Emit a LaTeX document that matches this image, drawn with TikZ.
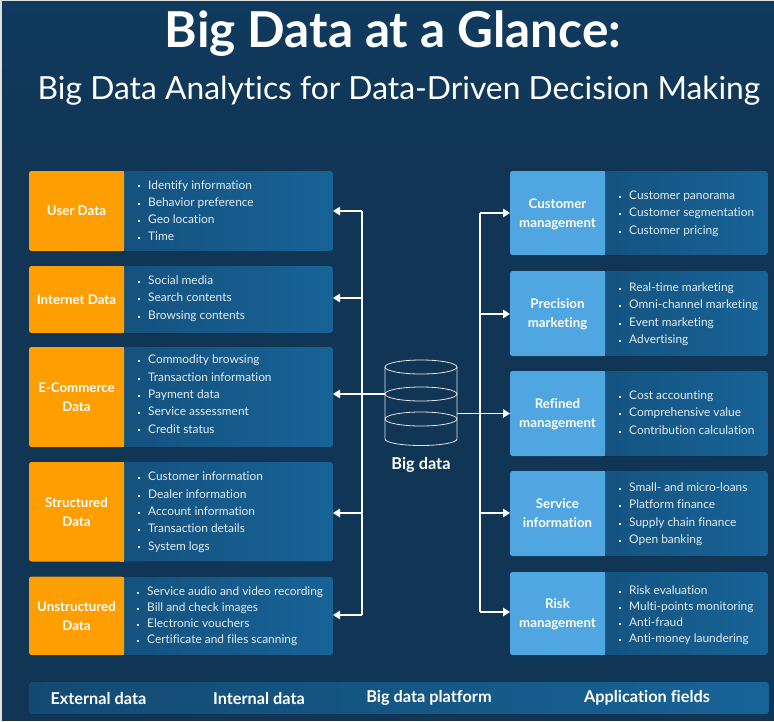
\documentclass[tikz,border=0pt]{standalone}
\usepackage{fontspec}
\setmainfont[Ligatures=NoCommon]{Lato}
\usetikzlibrary{arrows.meta,shapes.geometric}
\definecolor{bgtop}{HTML}{103B5E}
\definecolor{bgmid}{HTML}{103555}
\definecolor{panelL}{HTML}{134A73}
\definecolor{panelR}{HTML}{176397}
\definecolor{orangeb}{HTML}{FF9E00}
\definecolor{blueb}{HTML}{4FA6E0}
\definecolor{txt}{HTML}{E4EDF3}
\tikzset{
  x=1pt,y=-1pt,
  head/.style={font=\fontsize{13.3}{19}\selectfont\bfseries,text=white,align=center,inner sep=0pt,anchor=center},
  bullets/.style={font=\fontsize{11.9}{17.3}\selectfont,text=txt,align=left,anchor=west,inner sep=0pt},
  tight/.style={font=\fontsize{11.9}{16}\selectfont},
  conn/.style={draw=white,line width=1.4pt},
  arr/.style={conn,-{Triangle[length=7pt,width=8.5pt]}},
  cyl/.style={draw=white!90!black,line width=.8pt},
  bar/.style={font=\fontsize{16.3}{18}\selectfont\bfseries,text=white,inner sep=0pt},
}
\newcommand{\hs}{\rule[-4.5pt]{0pt}{18.5pt}}
\newcommand{\dataBox}[8]{%
 \fill[left color=panelL,right color=panelR,rounded corners=2.5pt] (#2,#3) rectangle (#4,#5);
 \fill[#7,rounded corners=2.5pt] (#2,#3) rectangle (#6,#5);
 \fill[#7] (#6-4,#3) rectangle (#6,#5);
 \node[head] (#1) at ({(#2+#6)/2},{(#3+#5)/2}) {\hs #8\hs};
}
\newcommand{\itemlist}[5][]{\node[bullets,#1] (#2) at (#3,#4) {\begin{tabular}{@{}l@{\hspace{8pt}}l@{}}#5\end{tabular}};}
\newcommand{\bu}{\raisebox{1.6pt}{\rule{2pt}{2pt}}&}
\begin{document}
\begin{tikzpicture}
\useasboundingbox (0,0) rectangle (774,721);
\fill[bgmid] (0,0) rectangle (774,721);
\fill[top color=bgtop,bottom color=bgmid] (0,0) rectangle (774,160);
\fill[black!12] (0,0) rectangle (2,721);
\fill[black!12] (0,0) rectangle (774,1.2);
% titles
\node[font=\fontsize{49.5}{52}\selectfont\bfseries,text=white,inner sep=0pt] (t1) at (393,34) {Big Data at a Glance:};
\node[font=\fontsize{31.8}{34}\selectfont,text=white,inner sep=0pt] (t2) at (399,91) {Big Data Analytics for Data-Driven Decision Making};
% left
\dataBox{u}{29}{171}{333}{251}{124}{orangeb}{User Data}
\dataBox{i}{29}{266}{333}{333}{124}{orangeb}{Internet Data}
\dataBox{e}{29}{347}{333}{447}{124}{orangeb}{E-Commerce\\Data}
\dataBox{s}{29}{462}{333}{561.5}{124}{orangeb}{Structured\\Data}
\dataBox{n}{29}{576.5}{333}{655}{124}{orangeb}{Unstructured\\Data}
\itemlist{lu}{138}{211.5}{\bu Identify information\\\bu Behavior preference\\\bu Geo location\\\bu Time}
\itemlist{li}{138}{298.5}{\bu Social media\\\bu Search contents\\\bu Browsing contents}
\itemlist{le}{138}{395}{\bu Commodity browsing\\\bu Transaction information\\\bu Payment data\\\bu Service assessment\\\bu Credit status}
\itemlist{ls}{138}{512}{\bu Customer information\\\bu Dealer information\\\bu Account information\\\bu Transaction details\\\bu System logs}
\itemlist[tight]{ln}{137}{616.5}{\bu Service audio and video recording\\\bu Bill and check images\\\bu Electronic vouchers\\\bu Certificate and files scanning}
% right
\dataBox{c}{510}{171}{768}{255}{605}{blueb}{Customer\\management}
\dataBox{p}{510}{271}{768}{356}{605}{blueb}{Precision\\marketing}
\dataBox{r}{510}{371}{768}{456}{605}{blueb}{Refined\\management}
\dataBox{v}{510}{471}{768}{556}{605}{blueb}{Service\\information}
\dataBox{k}{510}{572}{768}{655}{605}{blueb}{Risk\\management}
\itemlist{rc}{619}{213.5}{\bu Customer panorama\\\bu Customer segmentation\\\bu Customer pricing}
\itemlist{rp}{619}{314}{\bu Real-time marketing\\\bu Omni-channel marketing\\\bu Event marketing\\\bu Advertising}
\itemlist{rr}{619}{413.5}{\bu Cost accounting\\\bu Comprehensive value\\\bu Contribution calculation}
\itemlist{rv}{619}{514}{\bu Small- and micro-loans\\\bu Platform finance\\\bu Supply chain finance\\\bu Open banking}
\itemlist[tight]{rk}{619}{615.5}{\bu Risk evaluation\\\bu Multi-points monitoring\\\bu Anti-fraud\\\bu Anti-money laundering}
% cylinder
\draw[cyl] (385,367) -- (385,439) arc[start angle=180,end angle=360,x radius=36,y radius=-6.5] -- (457,367);
\draw[cyl] (421,367) ellipse[x radius=36,y radius=7];
\draw[cyl] (421,394) ellipse[x radius=36,y radius=7];
\draw[cyl] (421,419) ellipse[x radius=36,y radius=7];
\node[font=\fontsize{16.3}{18}\selectfont\bfseries,text=white,inner sep=0pt] (bd) at (421,465) {Big data};
\coordinate (cylL) at (385,394);
\coordinate (cylR) at (457,413.5);
% connector ends on the boxes
\coordinate (uE) at (333,211);
\coordinate (iE) at (333,298);
\coordinate (eE) at (333,394);
\coordinate (sE) at (333,513);
\coordinate (nE) at (333,615);
\coordinate (cW) at (510,213);
\coordinate (pW) at (510,314);
\coordinate (rW) at (510,413.5);
\coordinate (vW) at (510,513);
\coordinate (kW) at (510,612);
\coordinate (lbusT) at (362,211);
\coordinate (lbusB) at (362,615);
\coordinate (rbusT) at (480,213);
\coordinate (rbusB) at (480,612);
\draw[conn] (lbusT) -- (lbusB);
\draw[conn] (rbusT) -- (rbusB);
\draw[arr] (lbusT) -- (uE);
\draw[arr] (lbusT|-iE) -- (iE);
\draw[arr] (cylL) -- (eE);
\draw[arr] (lbusT|-sE) -- (sE);
\draw[arr] (lbusB) -- (nE);
\draw[arr] (rbusT) -- (cW);
\draw[arr] (rbusT|-pW) -- (pW);
\draw[arr] (cylR) -- (rW);
\draw[arr] (rbusT|-vW) -- (vW);
\draw[arr] (rbusB) -- (kW);
% bottom
\fill[left color=panelL,right color=panelR,rounded corners=2.5pt] (29,682) rectangle (769,714);
\node[bar] (b1) at (98.5,698) {External data};
\node[bar] (b2) at (259,698) {Internal data};
\node[bar] (b3) at (429,698) {Big data platform};
\node[bar] (b4) at (647,698) {Application fields};
\end{tikzpicture}
\end{document}
